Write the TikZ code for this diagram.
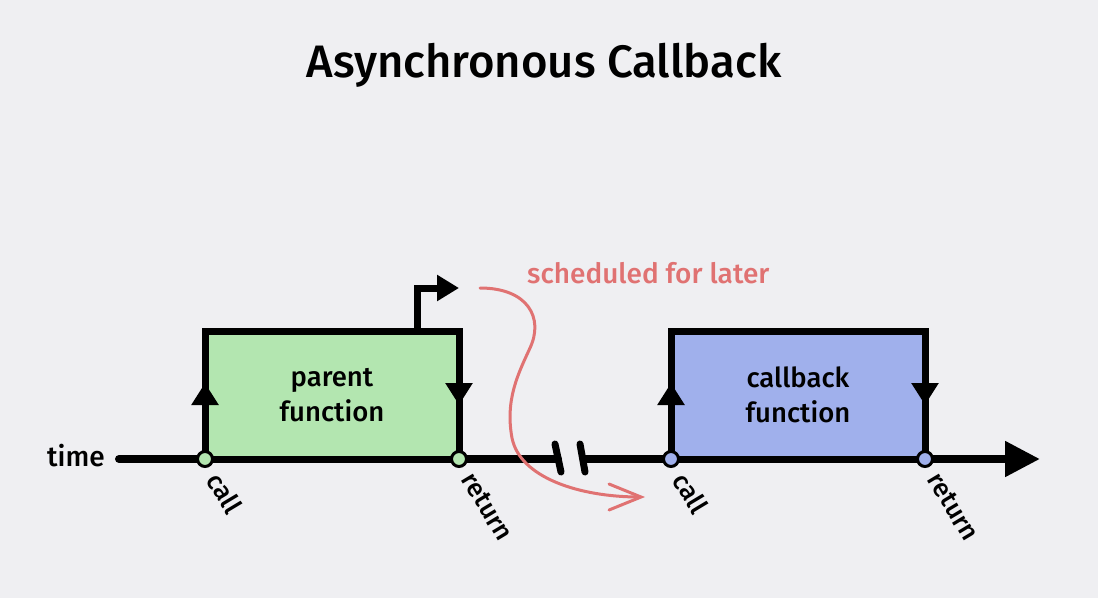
\documentclass[tikz,border=0pt]{standalone}
\usepackage{fontspec}
\setmainfont{Fira Sans}
\newfontfamily\firamed{Fira Sans Medium}
\usetikzlibrary{arrows.meta,calc}
\definecolor{bg}{RGB}{239,239,242}
\definecolor{pgreen}{RGB}{179,230,176}
\definecolor{cblue}{RGB}{160,176,236}
\definecolor{sred}{RGB}{224,114,114}
\begin{document}
\begin{tikzpicture}[x=1pt,y=-1pt,
  fbox/.style={draw=black,line width=7pt,minimum width=254pt,minimum height=128pt,
    inner sep=0pt,outer sep=0pt,align=center,font=\firamed\fontsize{27.5}{35}\selectfont},
  tick/.style={circle,draw=black,line width=3pt,minimum size=15pt,inner sep=0pt,outer sep=0pt},
  ticklabel/.style={rotate=-59,anchor=west,inner sep=0pt,font=\firamed\fontsize{26}{30}\selectfont},
  sidearrow/.style={line width=7pt,-{Triangle[length=22pt,width=26pt]}},
  timeline/.style={line width=8pt,line cap=round},
]
\useasboundingbox (0,0) rectangle (1098,598);
\fill[bg] (0,0) rectangle (1098,598);

\node[anchor=base,font=\firamed\fontsize{45.5}{54}\selectfont] (title) at (544,77) {Asynchronous Callback};

% time axis
\node[anchor=base east,inner sep=0pt,font=\firamed\fontsize{28}{32}\selectfont] (time) at (105,466) {time};
\coordinate (tstart) at (119,459);
\coordinate (brkL) at (558,459);
\coordinate (brkR) at (583,459);
\coordinate (tend) at (1040,459);
\draw[timeline] (tstart) -- (brkL);
\draw[timeline,line cap=butt,-{Triangle[length=35pt,width=34pt]}] (brkR) -- (tend);
\draw[line width=7pt,line cap=round] (555,444) -- (561,472);
\draw[line width=7pt,line cap=round] (580,444) -- (585,472);

% boxes
\node[fbox,fill=pgreen] (parent) at (332,395) {parent\\function};
\node[fbox,fill=cblue] (callback) at (798,395) {callback\\function};

\draw[sidearrow] (parent.south west) -- ($(parent.west)+(0,-12)$);
\draw[sidearrow] (parent.north east) -- ($(parent.east)+(0,10)$);
\draw[sidearrow] (callback.south west) -- ($(callback.west)+(0,-12)$);
\draw[sidearrow] (callback.north east) -- ($(callback.east)+(0,10)$);

% bent arrow
\coordinate (bendtip) at (459,288);
\draw[line width=7pt,-{Triangle[length=22pt,width=25pt]}] ($(parent.north west)+(212,0)$) |- (bendtip);

% ticks
\node[tick,fill=pgreen] (pcall) at (parent.south west) {};
\node[tick,fill=pgreen] (pret) at (parent.south east) {};
\node[tick,fill=cblue] (ccall) at (callback.south west) {};
\node[tick,fill=cblue] (cret) at (callback.south east) {};

\node[ticklabel] at ($(pcall)+(9,16)$) {call};
\node[ticklabel] at ($(pret)+(9,16)$) {return};
\node[ticklabel] at ($(ccall)+(9,16)$) {call};
\node[ticklabel] at ($(cret)+(9,16)$) {return};

% scheduled curve
\node[anchor=base west,inner sep=0pt,text=sred,font=\firamed\fontsize{28}{32}\selectfont] (sched) at (527,283) {scheduled for later};
\coordinate (cstart) at (480,288);
\coordinate (cend) at (645,497);
\draw[sred,line width=3pt,line cap=round,-{Straight Barb[length=32pt,width=26pt,line cap=round]}]
  (cstart) .. controls (528,288) and (544,318) .. (530,348)
  .. controls (518,374) and (505,400) .. (512,438)
  .. controls (520,478) and (580,497) .. (cend);
\end{tikzpicture}
\end{document}
